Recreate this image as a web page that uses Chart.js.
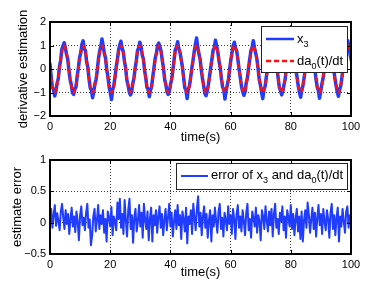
<!DOCTYPE html>
<html>
<head>
<meta charset="utf-8">
<script src="https://cdn.jsdelivr.net/npm/chart.js@4/dist/chart.umd.min.js"></script>
<style>
html, body { margin: 0; padding: 0; background: #fff; }
#wrap { position: relative; width: 388px; height: 292px; }
canvas { position: absolute; left: 0; }
</style>
</head>
<body>
<div id="wrap">
<canvas id="topChart" width="388" height="146" style="top:0;width:388px;height:146px"></canvas>
<canvas id="bottomChart" width="388" height="146" style="top:146px;width:388px;height:146px"></canvas>
</div>
<script>
'use strict';

// ============================================================================
// DATA
// ============================================================================

/** Sample spacing of the top traces, seconds (16 samples per period) */
const topSampleStep = 0.3927;

/** Sample spacing of the error trace, seconds */
const errorSampleStep = 0.4;

const xTicks = [0, 20, 40, 60, 80, 100];
const topYTicks = [-2, -1, 0, 1, 2];
const bottomYTicks = [-0.5, 0, 0.5, 1];

/** da0(t)/dt, red dashed reference */
const da0Values = [
    0, -0.38, -0.71, -0.92, -1, -0.92, -0.71, -0.38, 0, 0.38, 0.71, 0.92, 1, 0.92, 0.71, 0.38,
    0, -0.38, -0.71, -0.92, -1, -0.92, -0.71, -0.38, 0, 0.38, 0.71, 0.92, 1, 0.92, 0.71, 0.38,
    0, -0.38, -0.71, -0.92, -1, -0.92, -0.71, -0.38, 0, 0.38, 0.71, 0.92, 1, 0.92, 0.71, 0.38,
    0, -0.38, -0.71, -0.92, -1, -0.92, -0.71, -0.38, 0, 0.38, 0.71, 0.92, 1, 0.92, 0.71, 0.38,
    0, -0.38, -0.71, -0.92, -1, -0.92, -0.71, -0.38, 0, 0.38, 0.71, 0.92, 1, 0.92, 0.71, 0.38,
    0, -0.38, -0.71, -0.92, -1, -0.92, -0.71, -0.38, 0, 0.38, 0.71, 0.92, 1, 0.92, 0.71, 0.38,
    0, -0.38, -0.71, -0.92, -1, -0.92, -0.71, -0.38, 0, 0.38, 0.71, 0.92, 1, 0.92, 0.71, 0.38,
    0, -0.38, -0.71, -0.92, -1, -0.92, -0.71, -0.38, 0, 0.38, 0.71, 0.92, 1, 0.92, 0.71, 0.38,
    0, -0.38, -0.71, -0.92, -1, -0.92, -0.71, -0.38, 0, 0.38, 0.71, 0.92, 1, 0.92, 0.71, 0.38,
    0, -0.38, -0.71, -0.92, -1, -0.92, -0.71, -0.38, 0, 0.38, 0.71, 0.92, 1, 0.92, 0.71, 0.38,
    0, -0.38, -0.71, -0.92, -1, -0.92, -0.71, -0.38, 0, 0.38, 0.71, 0.92, 1, 0.92, 0.71, 0.38,
    0, -0.38, -0.71, -0.92, -1, -0.92, -0.71, -0.38, 0, 0.38, 0.71, 0.92, 1, 0.92, 0.71, 0.38,
    0, -0.38, -0.71, -0.92, -1, -0.92, -0.71, -0.38, 0, 0.38, 0.71, 0.92, 1, 0.92, 0.71, 0.38,
    0, -0.38, -0.71, -0.92, -1, -0.92, -0.71, -0.38, 0, 0.38, 0.71, 0.92, 1, 0.92, 0.71, 0.38,
    0, -0.38, -0.71, -0.92, -1, -0.92, -0.71, -0.38, 0, 0.38, 0.71, 0.92, 1, 0.92, 0.71, 0.38,
    0, -0.38, -0.71, -0.92, -1, -0.92, -0.71, -0.38, 0, 0.38, 0.71, 0.92, 1, 0.92, 0.71, 0.38
];

/** x3, blue noisy estimate */
const x3Values = [
    0.22, -0.30, -0.78, -0.88, -1.15, -0.95, -0.60, -0.42, 0.10, 0.35, 0.85, 0.98, 1.12, 0.90, 0.62, 0.42,
    -0.05, -0.45, -0.66, -1.02, -1.08, -0.85, -0.76, -0.30, 0.04, 0.48, 0.68, 1.05, 1.20, 0.86, 0.78, 0.30,
    0.08, -0.42, -0.80, -0.90, -1.22, -0.98, -0.64, -0.44, -0.06, 0.44, 0.76, 0.96, 1.28, 0.98, 0.66, 0.46,
    -0.02, -0.32, -0.76, -1.00, -1.30, -0.88, -0.70, -0.34, 0.08, 0.40, 0.80, 1.02, 1.18, 0.88, 0.74, 0.32,
    0.06, -0.46, -0.68, -0.96, -1.10, -1.00, -0.62, -0.40, 0.02, 0.34, 0.78, 0.90, 1.14, 0.96, 0.60, 0.44,
    -0.06, -0.36, -0.78, -0.86, -1.18, -0.90, -0.74, -0.32, 0.06, 0.46, 0.66, 1.00, 1.10, 0.94, 0.76, 0.36,
    0.04, -0.44, -0.66, -0.98, -1.08, -0.96, -0.64, -0.42, -0.04, 0.40, 0.82, 0.94, 1.16, 0.86, 0.70, 0.40,
    0.10, -0.34, -0.80, -0.90, -1.26, -0.86, -0.72, -0.36, 0.04, 0.36, 0.74, 1.04, 1.32, 0.92, 0.64, 0.42,
    -0.04, -0.42, -0.70, -1.04, -1.14, -0.94, -0.66, -0.30, 0.08, 0.42, 0.80, 0.92, 1.22, 0.98, 0.72, 0.34,
    0.06, -0.40, -0.76, -0.88, -1.28, -0.92, -0.68, -0.44, 0.00, 0.38, 0.70, 1.00, 1.14, 0.88, 0.76, 0.38,
    -0.02, -0.36, -0.74, -0.96, -1.12, -0.98, -0.60, -0.38, 0.06, 0.44, 0.78, 0.94, 1.20, 0.90, 0.68, 0.44,
    0.04, -0.44, -0.68, -1.00, -1.26, -0.88, -0.74, -0.34, -0.02, 0.36, 0.72, 1.02, 1.16, 0.96, 0.62, 0.36,
    0.08, -0.38, -0.78, -0.92, -1.10, -0.94, -0.66, -0.42, 0.04, 0.42, 0.80, 0.96, 1.18, 0.88, 0.74, 0.40,
    -0.04, -0.34, -0.72, -0.98, -1.20, -0.90, -0.70, -0.36, 0.02, 0.38, 0.68, 1.00, 1.12, 0.94, 0.70, 0.34,
    0.06, -0.42, -0.76, -0.90, -1.24, -0.96, -0.64, -0.40, -0.04, 0.44, 0.76, 0.94, 1.24, 0.92, 0.66, 0.42,
    0.02, -0.38, -0.70, -0.96, -1.16, -0.88, -0.72, -0.34, 0.06, 0.40, 0.78, 0.98, 1.20, 0.90, 0.58, 0.36
];

/** error of x3 and da0(t)/dt */
const errorValues = [
    0.05, 0.22, -0.08, 0.12, 0.28, -0.05, 0.15, 0.02, -0.12, 0.18,
    0.30, 0.08, -0.10, 0.20, -0.02, 0.14, -0.18, 0.06, 0.24, -0.06,
    0.10, -0.15, 0.18, 0.02, -0.28, 0.12, 0.26, -0.04, 0.08, -0.12,
    0.16, 0.30, -0.08, 0.05, -0.36, -0.20, 0.10, 0.22, -0.14, 0.04,
    0.28, -0.10, 0.12, -0.02, 0.20, -0.16, 0.06, -0.30, 0.18, 0.08,
    -0.06, 0.25, -0.20, 0.10, 0.02, -0.12, 0.32, 0.06, 0.38, -0.08,
    0.14, -0.18, 0.36, 0.04, -0.22, 0.20, 0.38, -0.10, 0.12, -0.32,
    0.08, 0.22, -0.14, 0.02, 0.28, -0.06, 0.16, -0.24, 0.30, 0.04,
    -0.10, 0.18, -0.28, 0.06, 0.24, -0.30, 0.12, -0.04, 0.20, -0.16,
    0.10, 0.26, -0.08, 0.14, -0.20, 0.04, 0.22, -0.12, 0.08, 0.30,
    -0.06, 0.16, -0.22, 0.02, 0.20, -0.10, 0.28, -0.04, 0.12, -0.26,
    0.18, 0.06, -0.14, 0.24, -0.33, 0.10, -0.02, 0.20, -0.18, 0.30,
    0.08, -0.12, 0.22, 0.42, -0.06, 0.16, -0.20, 0.10, 0.26, -0.08,
    0.14, -0.24, 0.04, 0.20, -0.30, 0.12, -0.06, 0.24, 0.02, -0.16,
    0.18, 0.30, -0.10, 0.08, -0.22, 0.16, 0.04, -0.12, 0.26, -0.02,
    0.12, -0.18, 0.22, 0.06, -0.26, 0.14, 0.28, -0.08, 0.10, -0.14,
    0.20, 0.02, -0.20, 0.16, 0.30, -0.12, 0.06, -0.24, 0.18, 0.08,
    -0.06, 0.24, -0.16, 0.12, 0.02, -0.28, 0.20, 0.10, -0.10, 0.26,
    0.04, -0.14, 0.18, -0.04, 0.22, -0.22, 0.14, 0.30, -0.08, 0.06,
    -0.18, 0.16, 0.02, 0.26, -0.12, 0.10, -0.24, 0.20, 0.08, -0.06,
    0.28, -0.10, 0.14, -0.20, 0.06, 0.22, -0.14, 0.10, -0.26, 0.18,
    -0.30, 0.04, 0.20, -0.08, 0.32, 0.12, -0.16, 0.06, 0.24, -0.10,
    0.16, -0.22, 0.08, 0.28, -0.04, 0.14, -0.18, 0.22, 0.02, -0.12,
    0.20, 0.06, -0.24, 0.16, 0.30, -0.10, 0.12, -0.20, 0.08, 0.24,
    -0.30, 0.10, -0.06, 0.22, 0.02, -0.16, 0.18, 0.26, -0.08, 0.12,
    0.04
];

// ============================================================================
// STYLE
// ============================================================================

const FONT_FAMILY = '"Liberation Sans", Arial, Helvetica, sans-serif';
const LEGEND_FONT = '13px ' + FONT_FAMILY;
const SUB_FONT = '9px ' + FONT_FAMILY;
const BLUE = '#1f3cff';
const RED = '#ff1010';

/**
 * Formats a tick with a true minus sign, like MATLAB does.
 * @param {number} value
 * @returns {string}
 */
function formatTick(value) {
    return value < 0 ? '\u2212' + Math.abs(value) : String(value);
}

/**
 * Draws text made of normal and subscript parts.
 */
function drawRichText(ctx, parts, x, y) {
    parts.forEach(part => {
        ctx.font = part.sub ? SUB_FONT : LEGEND_FONT;
        ctx.fillText(part.text, x, part.sub ? y + 4 : y);
        x += ctx.measureText(part.text).width;
    });
}

/**
 * Plugin: boxed frame with inward ticks and a MATLAB-like legend.
 */
const framePlugin = {
    id: 'frame',
    afterDatasetsDraw(chart, args, opts) {
        const { ctx, chartArea: area, scales } = chart;
        ctx.save();

        // inward tick marks on all four sides
        ctx.strokeStyle = '#000';
        ctx.lineWidth = 1;
        ctx.beginPath();
        xTicks.forEach(value => {
            const px = Math.round(scales.x.getPixelForValue(value)) + 0.5;
            ctx.moveTo(px, area.bottom);
            ctx.lineTo(px, area.bottom - 4);
            ctx.moveTo(px, area.top);
            ctx.lineTo(px, area.top + 4);
        });
        opts.yTicks.forEach(value => {
            const py = Math.round(scales.y.getPixelForValue(value)) + 0.5;
            ctx.moveTo(area.left, py);
            ctx.lineTo(area.left + 4, py);
            ctx.moveTo(area.right, py);
            ctx.lineTo(area.right - 4, py);
        });
        ctx.stroke();

        ctx.lineWidth = 2;
        ctx.strokeRect(area.left, area.top, area.right - area.left, area.bottom - area.top);

        // legend box
        const box = opts.legend;
        const left = area.right - box.offsetRight - box.width;
        const top = area.top + box.offsetTop;
        ctx.fillStyle = '#fff';
        ctx.fillRect(left, top, box.width, box.height);
        ctx.lineWidth = 1;
        ctx.strokeStyle = '#222';
        ctx.strokeRect(left + 0.5, top + 0.5, box.width, box.height);

        box.entries.forEach((entry, index) => {
            const lineY = top + box.firstRow + index * box.rowGap;
            ctx.beginPath();
            ctx.strokeStyle = entry.color;
            ctx.lineWidth = entry.width;
            ctx.setLineDash(entry.dash || []);
            ctx.moveTo(left + 5, lineY);
            ctx.lineTo(left + box.sampleLength + 5, lineY);
            ctx.stroke();
            ctx.setLineDash([]);
            ctx.fillStyle = '#000';
            ctx.textAlign = 'left';
            ctx.textBaseline = 'alphabetic';
            drawRichText(ctx, entry.label, left + box.sampleLength + 8, lineY + box.textShift);
        });

        ctx.restore();
    }
};

/**
 * Builds the shared options of one MATLAB-style subplot.
 */
function buildOptions(cfg) {
    const tickFont = { family: FONT_FAMILY, size: 11 };
    const titleFont = { family: FONT_FAMILY, size: 13 };
    return {
        responsive: false,
        animation: false,
        devicePixelRatio: 1,
        layout: { padding: { left: 0, top: cfg.padTop, right: 37, bottom: 0 } },
        plugins: {
            legend: { display: false },
            tooltip: { enabled: false },
            frame: { yTicks: cfg.yTicks, legend: cfg.legend }
        },
        scales: {
            x: {
                type: 'linear',
                min: 0,
                max: 100,
                afterBuildTicks: scale => { scale.ticks = xTicks.map(value => ({ value })); },
                afterFit: scale => {
                    scale.height = cfg.xAxisHeight;
                    scale.paddingLeft = 0;
                    scale.paddingRight = 0;
                },
                ticks: { color: '#000', font: tickFont, padding: 4, maxRotation: 0, autoSkip: false },
                grid: { color: 'rgba(0,0,0,0.75)', lineWidth: 1, drawTicks: false },
                border: { display: false, dash: [1, 2] },
                title: {
                    display: true, text: 'time(s)', color: '#000', font: titleFont,
                    padding: { top: 0, bottom: cfg.xTitlePad }
                }
            },
            y: {
                type: 'linear',
                min: cfg.yTicks[0],
                max: cfg.yTicks[cfg.yTicks.length - 1],
                afterBuildTicks: scale => { scale.ticks = cfg.yTicks.map(value => ({ value })); },
                afterFit: scale => {
                    scale.width = 50;
                    scale.paddingTop = 0;
                    scale.paddingBottom = 0;
                },
                ticks: { color: '#000', font: tickFont, padding: 4, callback: formatTick },
                grid: { color: 'rgba(0,0,0,0.75)', lineWidth: 1, drawTicks: false },
                border: { display: false, dash: [1, 2] },
                title: {
                    display: true, text: cfg.yTitle, color: '#000', font: titleFont,
                    padding: { top: cfg.yTitlePad, bottom: 0 }
                }
            }
        }
    };
}

// ============================================================================
// CHART RENDERING
// ============================================================================

function renderTopChart() {
    const canvas = document.getElementById('topChart');
    const x3Points = x3Values.map((value, i) => ({ x: i * topSampleStep, y: value }));
    const da0Points = da0Values.map((value, i) => ({ x: i * topSampleStep, y: value }));

    // the first dataset is painted last, so the red dashed reference goes first
    new Chart(canvas.getContext('2d'), {
        type: 'line',
        data: {
            datasets: [
                { data: da0Points, borderColor: RED, borderWidth: 2.5, borderDash: [5, 3],
                  borderJoinStyle: 'round', pointRadius: 0, tension: 0, fill: false },
                { data: x3Points, borderColor: BLUE, borderWidth: 3.5, borderJoinStyle: 'round',
                  borderCapStyle: 'round', pointRadius: 0, tension: 0, fill: false }
            ]
        },
        options: buildOptions({
            padTop: 22,
            xAxisHeight: 30,
            xTitlePad: 1,
            yTicks: topYTicks,
            yTitle: 'derivative estimation',
            yTitlePad: 16,
            legend: {
                width: 86, height: 46, offsetRight: 4, offsetTop: 4,
                firstRow: 13, rowGap: 22, sampleLength: 28, textShift: 3.5,
                entries: [
                    { color: BLUE, width: 2.5, label: [{ text: 'x' }, { text: '3', sub: true }] },
                    { color: RED, width: 2.5, dash: [5, 3],
                      label: [{ text: 'da' }, { text: '0', sub: true }, { text: '(t)/dt' }] }
                ]
            }
        }),
        plugins: [framePlugin]
    });
}

function renderBottomChart() {
    const canvas = document.getElementById('bottomChart');
    const errorPoints = errorValues.map((value, i) => ({ x: i * errorSampleStep, y: value }));

    new Chart(canvas.getContext('2d'), {
        type: 'line',
        data: {
            datasets: [
                { data: errorPoints, borderColor: BLUE, borderWidth: 2, borderJoinStyle: 'round',
                  pointRadius: 0, tension: 0, fill: false }
            ]
        },
        options: buildOptions({
            padTop: 14,
            xAxisHeight: 38,
            xTitlePad: 12,
            yTicks: bottomYTicks,
            yTitle: 'estimate error',
            yTitlePad: 10,
            legend: {
                width: 171, height: 26, offsetRight: 4, offsetTop: 3,
                firstRow: 13, rowGap: 0, sampleLength: 27, textShift: 3,
                entries: [
                    { color: BLUE, width: 2,
                      label: [{ text: 'error of x' }, { text: '3', sub: true }, { text: ' and da' },
                              { text: '0', sub: true }, { text: '(t)/dt' }] }
                ]
            }
        }),
        plugins: [framePlugin]
    });
}

try {
    renderTopChart();
    renderBottomChart();
} catch (error) {
    console.error('Error rendering charts:', error);
}
</script>
</body>
</html>
